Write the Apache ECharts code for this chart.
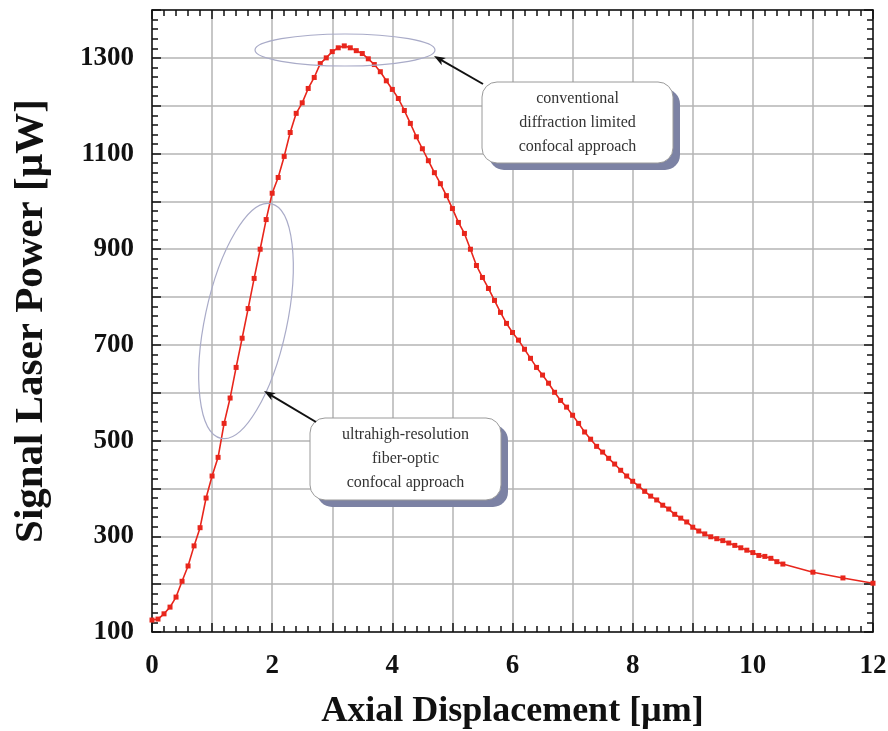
<!DOCTYPE html>
<html>
<head>
<meta charset="utf-8">
<script src="https://cdn.jsdelivr.net/npm/echarts@6/dist/echarts.min.js"></script>
<style>
  html, body { margin: 0; padding: 0; background: #fff; }
  #chart { width: 888px; height: 731px; }
</style>
</head>
<body>
<div id="chart"></div>
<script>
// axial displacement (um)
var xValues = [
  0.0, 0.1, 0.2, 0.3, 0.4, 0.5, 0.6, 0.7, 0.8, 0.9,
  1.0, 1.1, 1.2, 1.3, 1.4, 1.5, 1.6, 1.7, 1.8, 1.9,
  2.0, 2.1, 2.2, 2.3, 2.4, 2.5, 2.6, 2.7, 2.8, 2.9,
  3.0, 3.1, 3.2, 3.3, 3.4, 3.5, 3.6, 3.7, 3.8, 3.9,
  4.0, 4.1, 4.2, 4.3, 4.4, 4.5, 4.6, 4.7, 4.8, 4.9,
  5.0, 5.1, 5.2, 5.3, 5.4, 5.5, 5.6, 5.7, 5.8, 5.9,
  6.0, 6.1, 6.2, 6.3, 6.4, 6.5, 6.6, 6.7, 6.8, 6.9,
  7.0, 7.1, 7.2, 7.3, 7.4, 7.5, 7.6, 7.7, 7.8, 7.9,
  8.0, 8.1, 8.2, 8.3, 8.4, 8.5, 8.6, 8.7, 8.8, 8.9,
  9.0, 9.1, 9.2, 9.3, 9.4, 9.5, 9.6, 9.7, 9.8, 9.9,
  10.0, 10.1, 10.2, 10.3, 10.4, 10.5, 11.0, 11.5, 12.0
]
// signal laser power (uW)
var powerValues = [
  125, 127, 138, 152, 173, 206, 238, 280, 318, 380,
  426, 465, 536, 589, 653, 714, 776, 839, 900, 962,
  1017, 1050, 1094, 1144, 1184, 1206, 1236, 1259, 1288, 1300,
  1313, 1321, 1325, 1321, 1315, 1309, 1298, 1286, 1271, 1252,
  1234, 1215, 1190, 1163, 1135, 1110, 1085, 1060, 1037, 1012,
  985, 956, 933, 900, 866, 841, 818, 793, 768, 745,
  726, 710, 691, 672, 653, 637, 620, 601, 584, 570,
  553, 536, 518, 503, 488, 476, 463, 451, 438, 426,
  415, 405, 394, 384, 376, 365, 357, 346, 338, 330,
  319, 311, 305, 299, 295, 291, 286, 281, 276, 271,
  266, 260, 258, 254, 247, 242, 225, 213, 202
]
var xLabels = [0, 2, 4, 6, 8, 10, 12]
var yLabels = [100, 300, 500, 700, 900, 1100, 1300]

var upperNote = ['conventional', 'diffraction limited', 'confocal approach']
var lowerNote = ['ultrahigh-resolution', 'fiber-optic', 'confocal approach']

var serif = '"Liberation Serif", "DejaVu Serif", serif'

var points = xValues.map(function (x, i) {
  return [x, powerValues[i]]
})

// arrow line plus filled head at (x2, y2)
function arrow (x1, y1, x2, y2) {
  var a = Math.atan2(y2 - y1, x2 - x1)
  var len = 12
  var w = 0.35
  return [{
    type: 'line',
    shape: { x1: x1, y1: y1, x2: x2 - Math.cos(a) * 6, y2: y2 - Math.sin(a) * 6 },
    style: { stroke: '#111', lineWidth: 2 },
    z: 20
  }, {
    type: 'polygon',
    shape: {
      points: [
        [x2, y2],
        [x2 - len * Math.cos(a - w), y2 - len * Math.sin(a - w)],
        [x2 - len * 0.7 * Math.cos(a), y2 - len * 0.7 * Math.sin(a)],
        [x2 - len * Math.cos(a + w), y2 - len * Math.sin(a + w)]
      ]
    },
    style: { fill: '#111' },
    z: 20
  }]
}

function callout (x, y, w, h, lines) {
  return [{
    type: 'rect',
    shape: { x: x + 7, y: y + 7, width: w, height: h, r: 15 },
    style: { fill: '#7c82a4' },
    z: 18
  }, {
    type: 'rect',
    shape: { x: x, y: y, width: w, height: h, r: 15 },
    style: { fill: '#fff', stroke: '#9a9a9a', lineWidth: 1 },
    z: 19
  }, {
    type: 'text',
    x: x + w / 2,
    y: y + h / 2,
    style: {
      text: lines.join('\n'),
      font: '16px ' + serif,
      fill: '#333',
      align: 'center',
      verticalAlign: 'middle',
      lineHeight: 24
    },
    z: 21
  }]
}

var graphics = [].concat(
  [{
    type: 'ellipse',
    shape: { cx: 345, cy: 50, rx: 90, ry: 16 },
    style: { fill: 'none', stroke: '#a9abc8', lineWidth: 1.2 },
    z: 15
  }, {
    type: 'ellipse',
    x: 246,
    y: 321,
    rotation: -0.21,
    shape: { cx: 0, cy: 0, rx: 41, ry: 120 },
    style: { fill: 'none', stroke: '#a9abc8', lineWidth: 1.2 },
    z: 15
  }],
  arrow(483, 84, 434, 56),
  arrow(316, 422, 264, 391),
  callout(482, 82, 191, 81, upperNote),
  callout(310, 418, 191, 82, lowerNote)
)

var tickStyle = { color: '#111', width: 1.5 }

var chart = echarts.init(document.getElementById('chart'))
chart.setOption({
  backgroundColor: '#fff',
  animation: false,
  grid: { left: 152, right: 15, top: 10, bottom: 99, containLabel: false, outerBoundsMode: 'none' },
  xAxis: [{
    type: 'value',
    min: 0,
    max: 12,
    interval: 1,
    name: 'Axial Displacement [\u00b5m]',
    nameLocation: 'middle',
    nameGap: 62,
    nameTextStyle: { fontFamily: serif, fontWeight: 'bold', fontSize: 36, color: '#111' },
    axisLine: { onZero: false, lineStyle: { color: '#111', width: 1.5 } },
    axisTick: { inside: true, length: 9, lineStyle: tickStyle },
    minorTick: { show: true, splitNumber: 5, length: 6, lineStyle: tickStyle },
    splitLine: { show: true, lineStyle: { color: '#b4b4b4', width: 1.5 } },
    axisLabel: {
      margin: 21,
      fontFamily: serif,
      fontWeight: 'bold',
      fontSize: 27,
      color: '#111',
      formatter: function (v) { return xLabels.indexOf(v) >= 0 ? String(v) : '' }
    }
  }, {
    type: 'value',
    position: 'top',
    min: 0,
    max: 12,
    interval: 1,
    axisLine: { onZero: false, lineStyle: { color: '#111', width: 1.5 } },
    axisTick: { inside: true, length: 9, lineStyle: tickStyle },
    minorTick: { show: true, splitNumber: 5, length: 6, lineStyle: tickStyle },
    splitLine: { show: false },
    axisLabel: { show: false }
  }],
  yAxis: [{
    type: 'value',
    min: 100,
    max: 1400,
    interval: 100,
    name: 'Signal Laser Power [\u00b5W]',
    nameLocation: 'middle',
    nameGap: 100,
    nameTextStyle: { fontFamily: serif, fontWeight: 'bold', fontSize: 41, color: '#111' },
    axisLine: { onZero: false, lineStyle: { color: '#111', width: 1.5 } },
    axisTick: { inside: true, length: 9, lineStyle: tickStyle },
    minorTick: { show: true, splitNumber: 5, length: 6, lineStyle: tickStyle },
    splitLine: { show: true, lineStyle: { color: '#b4b4b4', width: 1.5 } },
    axisLabel: {
      margin: 18,
      fontFamily: serif,
      fontWeight: 'bold',
      fontSize: 27,
      color: '#111',
      formatter: function (v) { return yLabels.indexOf(v) >= 0 ? String(v) : '' }
    }
  }, {
    type: 'value',
    position: 'right',
    min: 100,
    max: 1400,
    interval: 100,
    axisLine: { onZero: false, lineStyle: { color: '#111', width: 1.5 } },
    axisTick: { inside: true, length: 9, lineStyle: tickStyle },
    minorTick: { show: true, splitNumber: 5, length: 6, lineStyle: tickStyle },
    splitLine: { show: false },
    axisLabel: { show: false }
  }],
  series: [{
    type: 'line',
    data: points,
    symbol: 'rect',
    symbolSize: 5,
    smooth: false,
    lineStyle: { color: '#e8261c', width: 1.6 },
    itemStyle: { color: '#e8261c' },
    z: 10
  }],
  graphic: graphics
})
</script>
</body>
</html>
